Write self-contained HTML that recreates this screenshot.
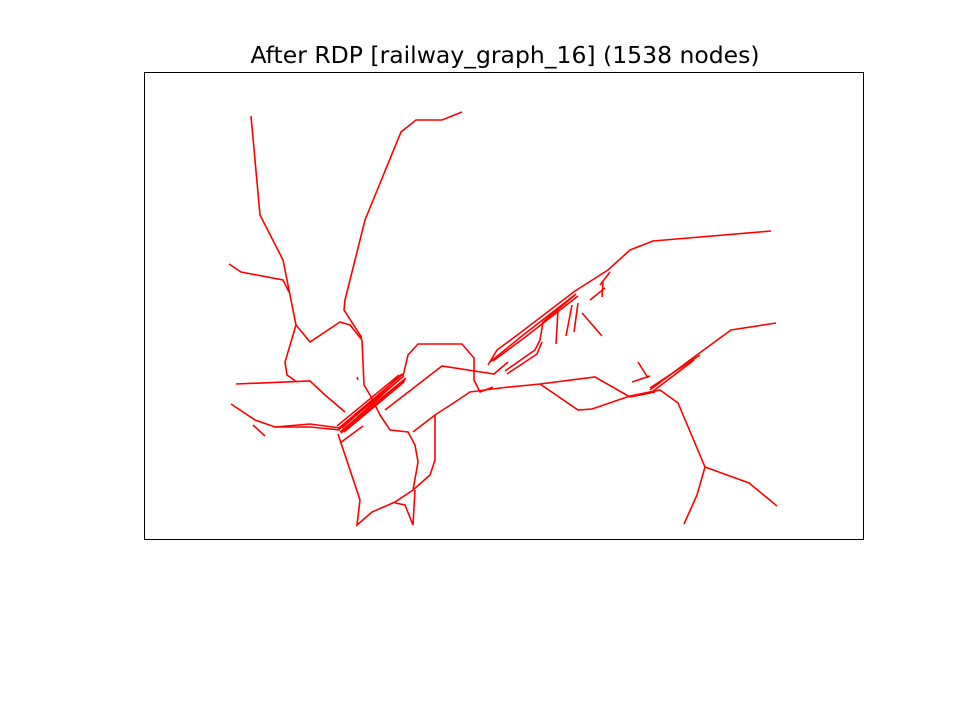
<!DOCTYPE html>
<html><head><meta charset="utf-8"><style>
body{margin:0;background:#fff;}
svg{display:block;font-family:"DejaVu Sans","Liberation Sans",sans-serif;}
</style></head><body>
<svg width="960" height="720">
<rect width="960" height="720" fill="#fff"/>
<text x="505" y="63" text-anchor="middle" font-size="23.5">After RDP [railway_graph_16] (1538 nodes)</text>
<g id="edges"></g>
<rect x="144.5" y="72.5" width="719" height="467" fill="none" stroke="#000" stroke-width="1"/>
</svg>
<script>
// polylines in data coordinates (x: 0-720 east, y: 0-468 south)
const lineA=[[107,44],[116,143],[139,188],[146,223],[152,253],[141,290],[143,303],[153,310]];
const lineB=[[85,192],[97,200],[139,208],[145,220]];
const lineC=[[152,253],[166,270],[196,250],[206,253],[218,268],[220,313],[226,323]];
const lineD=[[318,40],[298,48],[272,48],[257,60],[221,148],[201,228],[200,238],[218,266]];
const lineE=[[92,312],[166,309],[181,323],[201,340]];
const lineF=[[87,332],[111,348],[131,355],[166,355],[196,358]];
const lineF2=[[131,355],[166,352],[196,356]];
const lineG=[[109,353],[121,364]];
const lineH=[[194,358],[260,304]];
const lineH2=[[196,360],[262,306]];
const lineH3=[[198,356],[258,302]];
const lineH4=[[200,360],[260,310]];
const lineH5=[[193,354],[255,303]];
const lineH6=[[195,356],[259,302]];
const lineH7=[[197,361],[261,308]];
const lineH8=[[199,358],[257,306]];
const lineI=[[194,362],[216,428],[213,453],[228,440],[251,430],[269,418],[274,390],[271,373],[264,360],[246,358],[236,343],[226,323]];
const lineI2=[[251,431],[261,433],[269,453],[271,418]];
const lineJ=[[241,338],[298,294],[350,302],[364,290]];
const lineK=[[259,304],[264,283],[274,272],[318,272],[330,286],[330,308],[336,320],[349,315]];
const lineL=[[269,360],[291,343],[311,330],[326,320],[356,316],[396,312],[451,305],[486,325],[511,320]];
const lineM=[[396,312],[434,338],[448,337],[486,324],[516,318],[534,331],[561,395],[553,423],[540,452]];
const lineN=[[561,395],[605,411],[633,434]];
const lineO=[[506,318],[546,288],[587,258],[632,251]];
const lineO2=[[506,316],[556,283]];
const lineO3=[[508,320],[550,288]];
const lineP=[[488,310],[506,304]];
const lineP2=[[494,290],[504,306]];
const lineQ=[[344,293],[353,278],[376,261],[431,219],[464,198],[486,178],[509,169],[627,159]];
const lineQ2=[[346,290],[378,264],[432,222]];
const lineQ3=[[349,289],[380,266],[434,224]];
const lineR=[[361,299],[391,278],[396,268],[399,250],[431,223]];
const lineR2=[[363,302],[393,282],[398,270]];
const lineS=[[291,343],[291,388],[286,403],[269,418]];
const lineT1=[[414,238],[412,272]];
const lineT2=[[422,264],[428,233]];
const lineT3=[[430,260],[434,231]];
const lineT4=[[438,241],[458,264]];
const lineT5=[[446,228],[461,216]];
const lineT6=[[456,213],[466,200]];
const lineT7=[[458,225],[459,210]];
const lineU=[[196,371],[219,354]];
const lineV=[[213,305],[214,308]];
const allLines=[lineA,lineB,lineC,lineD,lineE,lineF,lineF2,lineG,lineH,lineH2,lineH3,lineH4,lineH5,lineH6,lineH7,lineH8,lineI,lineI2,lineJ,lineK,lineL,lineM,lineN,lineO,lineO2,lineO3,lineP,lineP2,lineQ,lineQ2,lineQ3,lineR,lineR2,lineS,lineT1,lineT2,lineT3,lineT4,lineT5,lineT6,lineT7,lineU,lineV];
const xScale=v=>144+v;
const yScale=v=>72+v;
const g=document.getElementById('edges');
allLines.forEach((ln,i)=>{
  const p=document.createElementNS('http://www.w3.org/2000/svg','polyline');
  p.setAttribute('points',ln.map(q=>xScale(q[0])+','+yScale(q[1])).join(' '));
  p.setAttribute('fill','none');
  p.setAttribute('stroke','#ff0000');
  p.setAttribute('stroke-width','1.6');
  
  
  g.appendChild(p);
});
</script>
</body></html>
